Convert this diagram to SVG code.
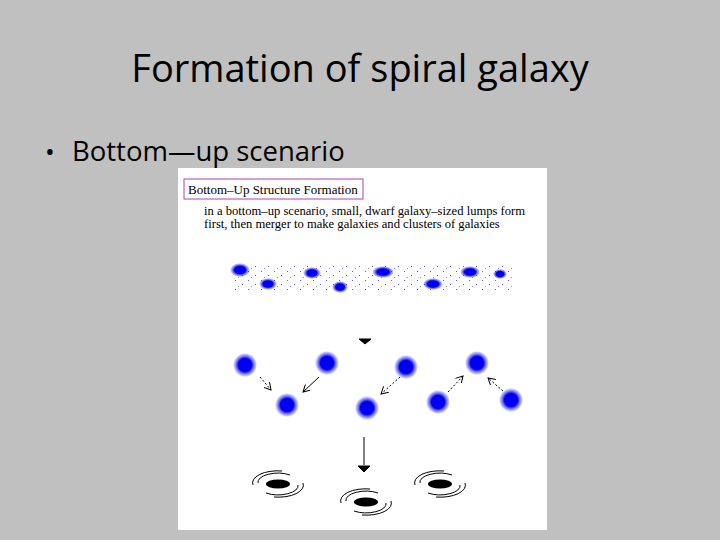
<svg xmlns="http://www.w3.org/2000/svg" width="720" height="540" viewBox="0 0 720 540">
<defs>
<radialGradient id="blob"><stop offset="0" stop-color="#0000ee"/><stop offset="0.55" stop-color="#0000ee"/><stop offset="0.8" stop-color="#3030f0" stop-opacity="0.5"/><stop offset="1" stop-color="#0000ff" stop-opacity="0"/></radialGradient>
<pattern id="spk" width="13" height="9" patternUnits="userSpaceOnUse"><rect x="1" y="1" width="1" height="1" fill="#1a1acc"/><rect x="8" y="5" width="1" height="1" fill="#1a1acc"/><rect x="4" y="7" width="1" height="1" fill="#6060d0"/></pattern>
<marker id="ah" markerWidth="8" markerHeight="8" refX="7" refY="4" orient="auto" markerUnits="userSpaceOnUse"><path d="M0,0 L7,4 L0,8" fill="none" stroke="#000" stroke-width="1"/></marker>
<g id="gal"><ellipse cx="0" cy="0" rx="12" ry="4.5" fill="#000"/><path d="M-20,-1 A20,9 0 0 1 12,-9 M20,1 A20,9 0 0 1 -12,9 M-25,1 A25,12 0 0 1 4,-13 M25,-1 A25,12 0 0 1 -4,13" fill="none" stroke="#000" stroke-width="1"/></g>
</defs>
<style>.t{font-family:"Open Sans","Liberation Sans",sans-serif;fill:#000}.s{font-family:"Liberation Serif",serif;fill:#000}</style>
<rect width="720" height="540" fill="#c0c0c0"/>
<text class="t" x="360" y="82" font-size="38" text-anchor="middle">Formation of spiral galaxy</text>
<text class="t" x="45" y="161" font-size="26">•</text>
<text class="t" x="72" y="161" font-size="27.5">Bottom—up scenario</text>
<g id="figure">
<rect x="178" y="168" width="369" height="362" fill="#fff"/>
<rect x="184" y="179" width="179" height="20" fill="none" stroke="#b040b0" stroke-width="1"/>
<text class="s" x="188" y="194" font-size="13">Bottom–Up Structure Formation</text>
<text class="s" x="204" y="215" font-size="12.6">in a bottom–up scenario, small, dwarf galaxy–sized lumps form</text>
<text class="s" x="204" y="228" font-size="12.6">first, then merger to make galaxies and clusters of galaxies</text>
<g id="toprow">
<rect x="230" y="263" width="282" height="28" fill="url(#spk)" opacity="0.7"/>
<g fill="url(#blob)">
<ellipse cx="240" cy="270" rx="10" ry="7"/><ellipse cx="268" cy="284" rx="9" ry="6"/><ellipse cx="312" cy="273" rx="9" ry="6"/><ellipse cx="340" cy="287" rx="8" ry="6"/><ellipse cx="383" cy="272" rx="11" ry="6"/><ellipse cx="433" cy="284" rx="10" ry="6"/><ellipse cx="470" cy="272" rx="10" ry="6"/><ellipse cx="500" cy="274" rx="7" ry="5"/>
</g></g>
<g id="clumps" fill="url(#blob)">
<circle cx="245" cy="365" r="12"/><circle cx="327" cy="363" r="12"/><circle cx="406" cy="367" r="12"/><circle cx="477" cy="363" r="12"/>
<circle cx="287" cy="405" r="12"/><circle cx="367" cy="408" r="12"/><circle cx="438" cy="402" r="12"/><circle cx="511" cy="400" r="12"/>
</g>
<g id="galaxies">
<use href="#gal" x="278" y="484"/><use href="#gal" x="366" y="502"/><use href="#gal" x="440" y="484"/>
</g>
</g>
<g id="connectors" stroke="#000" stroke-width="1" fill="none">
<path d="M359,339 L371,339 L365,344 Z" fill="#000"/>
<line x1="260" y1="377" x2="271" y2="390" stroke-dasharray="2,2" marker-end="url(#ah)"/>
<line x1="319" y1="377" x2="303" y2="392" marker-end="url(#ah)"/>
<line x1="400" y1="377" x2="381" y2="394" stroke-dasharray="2,2" marker-end="url(#ah)"/>
<line x1="448" y1="392" x2="463" y2="376" stroke-dasharray="2,2" marker-end="url(#ah)"/>
<line x1="503" y1="391" x2="488" y2="378" stroke-dasharray="2,2" marker-end="url(#ah)"/>
<line x1="364" y1="437" x2="364" y2="465"/>
<path d="M358,466 L370,466 L364,472 Z" fill="#000"/>
</g>
</svg>
